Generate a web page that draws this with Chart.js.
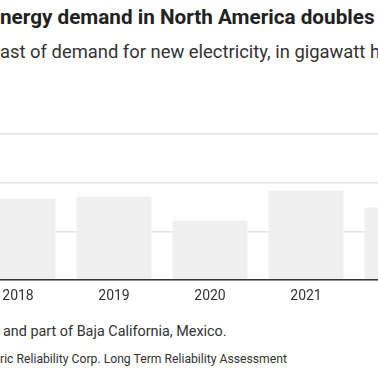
<!DOCTYPE html>
<html>
<head>
<meta charset="utf-8">
<script src="https://cdn.jsdelivr.net/npm/chart.js@4"></script>
<style>
html,body{margin:0;padding:0;width:378px;height:378px;overflow:hidden;background:#fff;font-family:Roboto,"Noto Sans",sans-serif;}
.txt{position:absolute;white-space:nowrap;}
#title{left:0;top:4px;font-size:20.7px;font-weight:700;color:#222;line-height:26px;}
#sub{left:0;top:41px;font-size:18.4px;color:#333;line-height:22px;}
#note{left:3px;top:323px;font-size:14.4px;color:#333;line-height:18px;}
#src{left:0;top:352px;font-size:12.2px;color:#333;line-height:15px;}
#wrap{position:absolute;left:-30px;top:124px;width:480px;height:189px;}
</style>
</head>
<body>
<div id="title" class="txt">nergy demand in North America doubles</div>
<div id="sub" class="txt">ast of demand for new electricity, in gigawatt hours</div>
<div id="wrap"><canvas id="chart"></canvas></div>
<div id="note" class="txt">and part of Baja California, Mexico.</div>
<div id="src" class="txt">ric Reliability Corp. Long Term Reliability Assessment</div>
<script>
/*========== Data ==========*/

const years=["2018","2019","2020","2021","2022"];
const demand=[167,171,122,184,149];
const yTicks=[0,100,200,300];

const $=id=>document.getElementById(id);

/*========== Chart ==========*/

new Chart($("chart"),{
    type:"bar",
    data:{labels:years,datasets:[{data:demand,backgroundColor:"#efefef",borderWidth:0,categoryPercentage:1,barPercentage:0.78}]},
    options:{
        responsive:true,maintainAspectRatio:false,animation:false,
        layout:{padding:{top:10,left:0,right:0,bottom:0}},
        plugins:{legend:{display:false},tooltip:{enabled:false}},
        scales:{
            x:{
                grid:{display:false,drawTicks:false},
                border:{display:true,color:"#333",width:1.5,z:1},
                ticks:{color:"#333",font:{family:"Roboto",size:14},padding:8}
            },
            y:{
                min:yTicks[0],max:yTicks[yTicks.length-1],
                afterBuildTicks:ax=>{ax.ticks=yTicks.map(v=>({value:v}));},
                grid:{color:"#e3e3e3",lineWidth:1.5,drawTicks:false},
                border:{display:false},
                ticks:{display:false}
            }
        }
    }
});
</script>
</body>
</html>
